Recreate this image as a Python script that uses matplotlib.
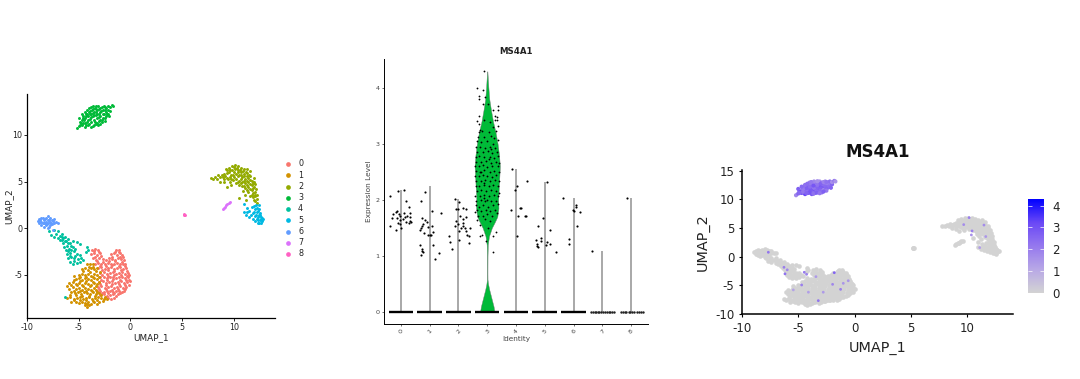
import matplotlib
matplotlib.use("Agg")
import matplotlib.pyplot as plt
from matplotlib.colors import LinearSegmentedColormap
from matplotlib.cm import ScalarMappable
from matplotlib.colors import Normalize

plt.rcParams["axes.unicode_minus"] = False

W, H = 1080, 379

# cluster points (umap_1, umap_2)
c0 = [(-3.7,-2.3),(-3.4,-2.2),(-3.1,-2.4),(-1.4,-2.3),(-1.1,-2.4),(-3.8,-2.8),(-3.5,-2.7),(-3.2,-2.9),(-2.9,-2.7),(-1.9,-2.8),
      (-1.6,-2.7),(-1.3,-2.9),(-1.0,-2.7),(-0.8,-2.9),(-3.6,-3.2),(-3.3,-3.4),(-3.0,-3.2),(-2.7,-3.3),(-2.4,-3.4),(-2.1,-3.2),
      (-1.8,-3.3),(-1.5,-3.4),(-1.2,-3.2),(-0.9,-3.3),(-0.6,-3.4),(-3.4,-3.8),(-3.1,-3.7),(-2.8,-3.9),(-2.5,-3.8),(-2.2,-3.7),
      (-1.9,-3.9),(-1.6,-3.8),(-1.3,-3.7),(-1.0,-3.9),(-0.7,-3.8),(-0.5,-3.9),(-3.1,-4.3),(-2.8,-4.2),(-2.5,-4.4),(-2.2,-4.3),
      (-1.9,-4.2),(-1.6,-4.4),(-1.3,-4.3),(-1.0,-4.2),(-0.7,-4.4),(-0.4,-4.3),(-2.9,-4.8),(-2.6,-4.7),(-2.3,-4.9),(-2.0,-4.8),
      (-1.7,-4.7),(-1.4,-4.9),(-1.1,-4.8),(-0.8,-4.7),(-0.5,-4.9),(-0.2,-4.8),(-2.9,-5.3),(-2.6,-5.2),(-2.3,-5.4),(-2.0,-5.3),
      (-1.7,-5.2),(-1.4,-5.4),(-1.1,-5.3),(-0.8,-5.2),(-0.5,-5.4),(-0.2,-5.3),(-0.1,-5.0),(-3.0,-5.8),(-2.7,-5.7),(-2.4,-5.9),
      (-2.1,-5.8),(-1.8,-5.7),(-1.5,-5.9),(-1.2,-5.8),(-0.9,-5.7),(-0.6,-5.9),(-0.3,-5.8),(0.0,-5.7),(-3.1,-6.3),(-2.8,-6.2),
      (-2.5,-6.4),(-2.2,-6.3),(-1.9,-6.2),(-1.6,-6.4),(-1.3,-6.3),(-1.0,-6.2),(-0.7,-6.4),(-0.4,-6.3),(-0.1,-6.1),(-3.2,-6.8),
      (-2.9,-6.7),(-2.6,-6.9),(-2.3,-6.8),(-2.0,-6.7),(-1.7,-6.9),(-1.4,-6.8),(-1.1,-6.7),(-0.8,-6.9),(-0.6,-6.7),(-2.9,-7.2),
      (-2.6,-7.1),(-2.3,-7.3),(-2.0,-7.2),(-1.7,-7.1),(-1.4,-7.3),(-1.2,-7.1),(-2.2,-7.5),(-1.9,-7.6),(-1.6,-7.5),
      (-3.55,-2.5),(-3.05,-2.6),(-1.45,-2.55),(-1.15,-2.6),(-3.45,-3.05),(-2.85,-3.0),(-1.75,-3.05),(-1.05,-3.1),(-0.75,-3.1),(-3.25,-3.55),
      (-2.65,-3.6),(-2.05,-3.5),(-1.45,-3.55),(-0.85,-3.6),(-2.95,-4.05),(-2.35,-4.1),(-1.75,-4.0),(-1.15,-4.05),(-0.55,-4.1),(-2.75,-4.5),
      (-2.15,-4.55),(-1.55,-4.6),(-0.95,-4.5),(-0.35,-4.6),(-2.75,-5.05),(-2.15,-5.1),(-1.55,-5.05),(-0.95,-5.0),(-0.35,-5.1),(-2.85,-5.55),
      (-2.25,-5.6),(-1.65,-5.5),(-1.05,-5.55),(-0.45,-5.6),(-0.1,-5.55),(-2.95,-6.05),(-2.35,-6.1),(-1.75,-6.0),(-1.15,-6.05),(-0.55,-6.1),
      (-3.0,-6.5),(-2.4,-6.55),(-1.8,-6.6),(-1.2,-6.55),(-0.55,-6.55),(-2.75,-7.0),(-2.15,-6.95),(-1.55,-7.0),(-1.0,-7.0),(-2.45,-7.5)]
c1 = [(-4.2,-3.8),(-3.9,-3.9),(-3.6,-3.9),(-4.7,-4.4),(-4.4,-4.3),(-4.1,-4.5),(-3.8,-4.3),(-3.5,-4.4),(-3.2,-4.3),(-5.0,-5.0),
      (-4.7,-4.9),(-4.4,-5.0),(-4.1,-4.9),(-3.8,-5.1),(-3.5,-4.9),(-3.2,-5.0),(-2.9,-4.7),(-5.5,-5.1),(-5.3,-5.5),(-5.0,-5.4),
      (-4.7,-5.6),(-4.4,-5.4),(-4.1,-5.5),(-3.8,-5.6),(-3.5,-5.4),(-3.2,-5.5),(-5.9,-5.9),(-5.6,-5.8),(-5.3,-6.0),(-5.0,-5.9),
      (-4.7,-6.1),(-4.4,-5.9),(-4.1,-6.0),(-3.8,-6.1),(-3.5,-5.9),(-3.2,-6.0),(-6.1,-6.2),(-5.9,-6.5),(-5.6,-6.3),(-5.3,-6.5),
      (-5.0,-6.4),(-4.7,-6.6),(-4.4,-6.4),(-4.1,-6.5),(-3.8,-6.6),(-3.5,-6.4),(-3.3,-6.6),(-5.7,-6.9),(-5.4,-7.0),(-5.1,-6.9),
      (-4.8,-7.1),(-4.5,-6.9),(-4.2,-7.0),(-3.9,-7.1),(-3.6,-6.9),(-3.3,-7.1),(-3.0,-7.0),(-6.1,-7.5),(-5.8,-7.4),(-5.5,-7.6),
      (-5.2,-7.5),(-4.9,-7.4),(-4.6,-7.6),(-4.3,-7.5),(-4.0,-7.4),(-3.7,-7.6),(-3.4,-7.5),(-3.1,-7.4),(-2.8,-7.5),(-2.5,-7.4),
      (-2.3,-7.6),(-5.7,-7.9),(-5.3,-7.9),(-5.0,-8.0),(-4.7,-7.9),(-4.4,-8.0),(-4.1,-7.9),(-3.8,-8.1),(-3.5,-7.9),(-3.0,-7.9),
      (-2.7,-7.8),(-4.4,-8.3),(-4.2,-8.5),(-4.0,-8.3),(-4.2,-8.1),(-3.2,-8.1),
      (-4.05,-4.15),(-3.65,-4.15),(-4.55,-4.65),(-3.95,-4.7),(-3.35,-4.65),(-4.85,-5.2),(-4.25,-5.25),(-3.65,-5.2),(-3.05,-5.25),(-5.45,-5.6),
      (-4.85,-5.65),(-4.25,-5.7),(-3.65,-5.75),(-3.05,-5.75),(-5.75,-6.1),(-5.15,-6.15),(-4.55,-6.25),(-3.95,-6.25),(-3.35,-6.2),(-5.45,-6.7),
      (-4.85,-6.75),(-4.25,-6.75),(-3.7,-6.75),(-3.2,-6.85),(-5.85,-7.15),(-5.25,-7.2),(-4.65,-7.25),(-4.05,-7.25),(-3.45,-7.25),(-2.85,-7.2),
      (-5.45,-7.75),(-4.85,-7.7),(-4.25,-7.7),(-3.65,-7.85),(-3.25,-7.7),(-2.6,-7.65)]
c2 = [(7.8,5.4),(8.0,5.3),(8.2,5.5),(8.4,5.3),(8.5,5.7),(8.7,5.5),(8.7,5.0),(9.0,5.8),(9.0,5.3),(9.0,4.9),
      (9.2,6.3),(9.3,5.9),(9.3,5.4),(9.5,6.5),(9.5,6.0),(9.6,5.5),(9.6,5.0),(9.8,6.7),(9.8,6.2),(9.9,5.7),
      (9.9,5.2),(10.1,6.8),(10.1,6.3),(10.2,5.8),(10.2,5.3),(10.2,4.8),(10.4,6.7),(10.4,6.2),(10.5,5.7),(10.5,5.1),
      (10.5,4.6),(10.7,6.5),(10.7,6.0),(10.8,5.5),(10.8,5.0),(10.8,4.5),(10.9,4.0),(11.0,6.3),(11.0,5.8),(11.1,5.3),
      (11.1,4.8),(11.1,4.3),(11.1,3.6),(11.3,6.4),(11.3,5.9),(11.4,5.4),(11.4,4.9),(11.4,4.4),(11.4,3.9),(11.6,6.1),
      (11.6,5.6),(11.7,5.1),(11.7,4.6),(11.7,4.1),(11.7,3.6),(11.9,5.4),(11.9,5.0),(11.9,4.4),(12.0,3.9),(12.0,3.4),
      (11.9,3.0),(12.1,4.2),(12.2,3.6),(12.2,3.1),(12.2,2.7),(10.5,3.2),(9.3,4.4),(8.9,5.5),(9.7,4.6),(11.2,3.0),
      (8.85,5.75),(9.15,5.6),(9.35,6.2),(9.45,5.25),(9.65,6.25),(9.75,5.75),(9.75,5.3),(10.0,6.55),(10.05,6.05),(10.05,5.5),
      (10.3,6.45),(10.35,6.0),(10.35,5.55),(10.35,5.0),(10.6,6.25),(10.65,5.75),(10.65,5.25),(10.65,4.8),(10.9,6.1),(10.95,5.55),
      (10.95,5.1),(10.95,4.55),(11.2,6.05),(11.25,5.6),(11.25,5.1),(11.25,4.6),(11.25,4.1),(11.5,5.75),(11.55,5.2),(11.55,4.7),
      (11.55,4.2),(11.55,3.4),(11.8,4.85),(11.8,4.3),(11.85,3.8),(11.85,3.3),(12.05,4.7),(12.05,3.6),(12.05,2.9)]
# cluster 3 carries its expression level too (umap_1, umap_2, MS4A1)
c3 = [(-5.2,10.7,1.8),(-5.0,11.0,2.6),(-4.9,11.4,2.4),(-5.0,11.8,2.7),(-4.7,11.1,2.9),(-4.7,11.6,2.0),(-4.6,12.0,2.5),(-4.4,10.9,3.2),(-4.4,11.3,2.6),(-4.4,11.8,2.3),
      (-4.3,12.3,2.8),(-4.1,11.1,2.7),(-4.1,11.6,3.4),(-4.1,12.0,2.2),(-4.0,12.5,1.9),(-3.8,10.9,2.9),(-3.8,11.4,2.5),(-3.8,11.9,3.0),(-3.8,12.3,2.4),(-3.7,12.7,2.1),
      (-3.5,11.1,2.6),(-3.5,11.6,3.1),(-3.5,12.1,1.8),(-3.5,12.5,2.7),(-3.4,12.9,2.3),(-3.2,11.3,2.2),(-3.2,11.8,2.8),(-3.2,12.3,3.3),(-3.2,12.7,2.5),(-3.1,13.1,1.7),
      (-2.9,11.6,2.9),(-2.9,12.0,2.4),(-2.9,12.5,2.6),(-2.9,12.9,2.0),(-2.7,11.8,2.5),(-2.7,12.3,3.0),(-2.7,12.7,2.3),(-2.6,13.1,1.9),(-2.4,12.0,2.2),(-2.4,12.5,2.7),
      (-2.4,12.9,2.5),(-2.2,12.3,2.8),(-2.2,12.7,2.1),(-2.2,13.1,2.4),(-2.0,12.6,2.6),(-2.0,13.0,1.6),(-1.8,13.2,2.2),(-1.7,13.1,1.5),(-4.8,11.3,3.0),(-4.5,11.6,2.7),
      (-4.2,11.4,2.4),(-3.9,11.7,2.8),(-3.6,12.0,2.2),(-3.3,12.1,2.6),(-3.0,12.2,2.9),(-2.8,12.6,2.4),(-2.5,12.7,1.9),(-3.6,12.8,2.5),(-3.3,12.5,2.3),(-4.2,12.2,2.6),
      (-4.6,11.3,2.2),(-3.0,11.9,2.7),(-3.9,12.6,2.0),(-2.6,12.2,2.5),(-4.0,11.2,2.9),(-3.4,11.4,2.4),(-4.9,11.1,2.5),(-4.55,11.85,2.1),(-4.25,12.0,2.7),(-3.95,12.2,2.4),
      (-3.65,12.4,2.9),(-3.35,12.75,2.2),(-3.0,12.75,2.6),(-2.75,13.0,1.9),(-2.5,13.0,2.3),(-2.3,12.2,2.4),(-4.25,11.05,2.6),(-3.65,10.95,2.3),(-3.35,11.15,2.7),(-3.05,11.5,2.5),
      (-2.75,11.6,1.8),(-2.5,11.85,2.6),(-4.4,12.5,2.3),(-4.0,12.9,2.0),(-3.6,13.1,1.8),(-4.7,12.2,2.5),(-2.9,11.2,2.4),(-2.5,11.5,2.1),(-2.1,12.0,2.6),(-3.1,11.05,2.2),
      (-3.85,13.0,2.1),(-4.2,12.7,2.4),(-3.3,13.15,1.6),(-2.75,11.35,2.7)]
c4 = [(-7.9,-0.3),(-7.7,-0.7),(-7.4,-0.2),(-7.2,-0.6),(-7.4,-1.0),(-7.0,-0.3),(-7.0,-1.1),(-6.8,-0.8),(-6.6,-0.6),(-6.8,-1.3),
      (-6.5,-1.1),(-6.3,-0.9),(-6.5,-1.6),(-6.2,-1.4),(-6.0,-1.2),(-6.4,-2.0),(-6.1,-1.9),(-5.8,-1.6),(-5.6,-1.4),(-6.2,-2.4),
      (-5.9,-2.2),(-5.6,-2.0),(-5.2,-1.5),(-4.9,-1.7),(-6.1,-2.8),(-5.8,-2.7),(-5.5,-2.5),(-5.2,-2.8),(-4.9,-2.9),(-6.0,-3.2),
      (-5.7,-3.1),(-5.4,-3.0),(-5.1,-3.3),(-4.8,-3.2),(-4.6,-3.4),(-5.8,-3.6),(-5.5,-3.5),(-5.2,-3.7),(-4.9,-3.6),(-4.2,-2.0),
      (-4.3,-2.6),(-4.1,-2.4),(-6.3,-7.4),(-6.65,-1.0),(-6.35,-1.35),(-6.05,-1.65),(-5.75,-1.95),(-6.0,-2.5),(-5.7,-2.4),(-5.85,-3.0),
      (-5.45,-3.25),(-5.6,-3.8),(-5.35,-2.2),(-6.6,-1.3)]
c5 = [(11.0,2.6),(11.3,2.2),(11.0,1.7),(11.2,1.4),(11.5,1.8),(11.5,1.2),(11.7,2.3),(11.8,1.6),(11.8,1.0),(12.0,2.0),
      (12.0,1.3),(12.1,2.5),(12.2,1.7),(12.2,1.0),(12.2,2.2),(12.3,0.6),(12.4,1.4),(12.4,2.0),(12.5,0.9),(12.5,1.6),
      (12.6,0.5),(12.6,1.2),(12.7,0.8),(12.7,1.1),(12.4,2.5),(12.0,0.8),(11.3,1.7),(12.8,1.0),(12.3,1.2),(11.65,1.4),
      (11.95,1.7),(12.35,0.85),(12.55,1.4),(12.45,0.55),(11.9,2.4),(12.15,1.45),(12.65,0.95),(12.3,1.8)]
c6 = [(-8.9,0.8),(-8.8,0.5),(-8.8,1.0),(-8.6,0.3),(-8.6,0.7),(-8.6,1.1),(-8.4,0.1),(-8.4,0.5),(-8.4,0.9),(-8.2,0.3),
      (-8.2,0.7),(-8.2,1.1),(-8.0,0.0),(-8.0,0.5),(-8.0,0.9),(-8.0,1.3),(-7.8,0.3),(-7.8,0.7),(-7.8,1.1),(-7.6,0.4),
      (-7.6,0.9),(-7.4,0.6),(-7.4,1.0),(-7.2,0.7),(-7.5,-0.2),(-7.0,0.6),(-8.7,0.85),(-8.5,0.55),(-8.3,0.95),(-8.1,0.45),
      (-7.9,0.85),(-7.7,0.55),(-7.5,0.8),(-8.3,0.5),(-8.5,1.05),(-7.9,0.15)]
c7 = [(8.9,2.1),(9.0,2.2),(9.15,2.3),(9.25,2.45),(9.35,2.55),(9.5,2.7),(9.6,2.8)]
c8 = [(5.15,1.45),(5.25,1.45),(5.2,1.5)]
clusters = [c0, c1, c2, c3, c4, c5, c6, c7, c8]
cluster_names = ["0", "1", "2", "3", "4", "5", "6", "7", "8"]
cluster_colors = ["#F8766D", "#D39200", "#93AA00", "#00BA38", "#00C19F", "#00B9E3", "#619CFF", "#DB72FB", "#FF61C3"]

# violin panel
violin_max = [2.17, 2.24, 2.02, 4.29, 2.55, 2.32, 2.04, 1.08, 2.03]
zero_halfwidth = [0.43, 0.43, 0.43, 0.42, 0.43, 0.43, 0.42, 0.0, 0.0]
zero_x7 = [6.62, 6.68, 6.73, 6.78, 6.84, 6.9, 6.96, 7.03, 7.1, 7.16, 7.22, 7.28, 7.34, 7.4]
zero_x8 = [7.66, 7.72, 7.78, 7.84, 7.92, 7.98, 8.04, 8.12, 8.2, 8.27, 8.35, 8.42]
violin_y = [0.0, 0.1, 0.2, 0.3, 0.4, 0.5, 0.58, 0.7, 1.0, 1.2, 1.35, 1.5, 1.6, 1.7, 1.85, 2.0, 2.3, 2.6, 2.8, 3.0, 3.2, 3.4, 3.6, 3.8, 4.0, 4.29]
violin_w = [0.25, 0.22, 0.17, 0.12, 0.07, 0.03, 0.01, 0.008, 0.01, 0.02, 0.06, 0.16, 0.26, 0.35, 0.39, 0.38, 0.41, 0.44, 0.41, 0.36, 0.29, 0.2, 0.13, 0.07, 0.04, 0.005]

jit0 = [(-.38,2.06),(-.09,2.16),(.09,2.18),(.16,1.97),(.28,1.88),(-.37,1.53),(-.30,1.67),(-.28,1.74),(-.19,1.78),(-.14,1.80),(-.08,1.75),(-.05,1.71),(.09,1.76),(.13,1.69),
        (.33,1.76),(.30,1.69),(.36,1.61),(.28,1.59),(.19,1.61),(.07,1.66),(-.02,1.64),(-.09,1.59),(-.05,1.57),(-.16,1.47),(.01,1.49),(-.13,1.67),(.31,1.62),(.2,1.72)]
jit1 = [(.66,1.47),(.68,1.5),(.72,1.53),(.75,1.57),(.74,1.67),(.85,1.64),(.91,1.6),(.81,1.4),(.93,1.38),(1.0,1.37),(1.03,1.38),(1.13,1.42),(1.07,1.53),(.94,1.52),
        (.84,2.14),(.69,1.98),(1.07,1.8),(1.38,1.76),(.67,1.2),(.73,1.13),(.74,1.09),(.75,1.07),(.71,1.02),(1.13,1.2),(1.2,.95),(1.33,1.05)]
jit2 = [(1.68,1.35),(1.72,1.25),(1.76,1.13),(1.88,2.02),(2.02,1.96),(2.0,1.83),(1.92,1.83),(2.15,1.85),(2.27,1.84),(2.04,1.72),(2.17,1.66),(2.27,1.69),(1.9,1.62),(1.88,1.54),
        (2.0,1.57),(2.17,1.59),(2.15,1.53),(2.22,1.5),(2.4,1.5),(2.02,1.45),(2.27,1.44),(2.31,1.38),(2.35,1.35),(2.02,1.28),(2.35,1.23),(2.1,1.5)]
jit3 = [(2.87,4.29),(2.63,4.0),(2.85,3.95),(2.72,3.85),(2.73,3.79),(2.92,3.84),(3.03,3.7),(2.85,3.7),(3.36,3.68),(3.36,3.6),(3.2,3.6),(2.73,3.5),(3.28,3.5),(3.33,3.47),
        (3.27,3.42),(3.35,3.42),(2.65,3.4),(2.7,3.35),(2.9,3.42),(3.1,3.38),(3.2,3.3),(3.36,3.32),(2.76,3.25),(2.7,3.2),(2.82,3.22),(3.05,3.2),(3.3,3.22),(2.68,3.12),
        (2.9,3.12),(3.12,3.14),(3.25,3.1),(2.63,3.05),(2.8,3.03),(3.0,3.05),(3.2,3.0),(3.36,3.07),(2.62,2.95),(2.75,2.95),(2.92,2.93),(3.1,2.95),(3.28,2.92),(2.66,2.85),
        (2.85,2.85),(3.02,2.87),(3.16,2.84),(3.34,2.85),(2.6,2.77),(2.72,2.78),(2.9,2.76),(3.08,2.77),(3.25,2.75),(3.38,2.78),(2.6,2.68),(2.78,2.68),(2.95,2.7),(3.12,2.66),
        (3.3,2.68),(3.42,2.66),(2.56,2.6),(2.7,2.6),(2.85,2.62),(3.0,2.58),(3.18,2.6),(3.36,2.6),(2.6,2.52),(2.74,2.5),(2.9,2.53),(3.08,2.5),(3.24,2.52),(3.42,2.5),(2.57,2.43),
        (2.7,2.42),(2.84,2.44),(3.0,2.42),(3.15,2.41),(3.32,2.44),(2.62,2.34),(2.78,2.34),(2.93,2.36),(3.1,2.33),(3.26,2.35),(3.4,2.34),(2.6,2.25),(2.72,2.25),(2.88,2.27),
        (3.05,2.24),(3.2,2.26),(3.36,2.25),(2.64,2.16),(2.8,2.17),(2.96,2.15),(3.12,2.17),(3.3,2.15),(3.42,2.13),(2.58,2.07),(2.74,2.07),(2.9,2.08),(3.05,2.06),(3.22,2.08),
        (3.38,2.07),(2.62,1.98),(2.78,1.99),(2.92,1.97),(2.98,2.0),(3.14,1.98),(3.3,1.98),(2.6,1.9),(2.7,1.88),(2.86,1.9),(3.03,1.88),(3.2,1.9),(3.36,1.92),(2.65,1.82),
        (2.8,1.8),(2.96,1.82),(3.1,1.8),(3.26,1.82),(2.58,1.78),(2.68,1.72),(2.84,1.72),(3.0,1.74),(3.18,1.72),(3.33,1.76),(2.66,1.64),(2.92,1.65),(3.1,1.63),(2.75,1.55),
        (3.02,1.5),(2.75,1.36),(2.82,1.37),(2.95,1.27),(3.2,1.07),(3.2,1.36),(3.3,1.42),(2.87,2.3),(3.05,2.72),(2.78,2.5),(3.14,2.9),(2.9,2.03)]
jit4 = [(3.84,1.82),(3.86,2.55),(3.97,2.17),(4.03,1.36),(4.02,2.25),(4.07,1.72),(4.15,1.85),(4.18,1.86),(4.31,1.71),(4.35,1.71),(4.38,2.33)]
jit5 = [(4.71,1.28),(4.72,1.22),(4.74,1.18),(4.76,1.15),(4.77,1.53),(4.87,1.32),(4.87,1.27),(4.93,1.68),(5.03,1.2),(5.08,1.24),(5.07,2.31),(5.18,1.47),(5.17,1.21),(5.38,1.07)]
jit6 = [(5.65,2.04),(5.83,1.21),(5.85,1.3),(5.99,1.82),(6.01,1.8),(6.08,1.91),(6.1,1.87),(6.12,1.53),(6.21,1.79)]
jit7 = [(6.65,1.08)]
jit8 = [(7.87,2.03)]
jitter = [jit0, jit1, jit2, jit3, jit4, jit5, jit6, jit7, jit8]

# cells outside cluster 3 that express MS4A1 in the feature panel
pos_x = [-7.66, -6.27, -6.18, -5.98, -4.47, -4.26, -4.7, -1.8, -1.95, -3.43, -1.0, -1.24, -0.56, -3.22, -4.1, -5.44, -2.78, 10.18, 9.7, 10.44, 10.38, 11.5, 11.66, 11.12]
pos_y = [0.76, -1.86, -3.0, -2.3, -2.73, -3.08, -4.94, -2.8, -4.83, -3.49, -4.65, -5.7, -4.2, -7.67, -6.2, -5.8, -6.2, 6.8, 5.58, 4.48, 3.78, 5.5, 3.5, 1.57]
pos_v = [2.2, 2.0, 2.3, 1.8, 2.1, 1.9, 2.0, 2.6, 1.8, 1.4, 1.5, 2.0, 1.5, 2.2, 1.3, 1.2, 1.4, 2.0, 1.7, 2.0, 1.6, 1.7, 1.5, 1.3]

feature_colors = ["#d3d3d3", "#b8a8e6", "#9578ee", "#6a48f6", "#0000ff"]
feature_cmap = LinearSegmentedColormap.from_list("ms4a1", feature_colors)
feature_max = 4.3


def make_axes(fig, left, top, right, bottom):
    return fig.add_axes([left / W, 1 - bottom / H, (right - left) / W, (bottom - top) / H])


def clean(ax, lw=0.9):
    ax.spines["top"].set_visible(False)
    ax.spines["right"].set_visible(False)
    ax.spines["left"].set_linewidth(lw)
    ax.spines["bottom"].set_linewidth(lw)


fig = plt.figure(figsize=(W / 100, H / 100), dpi=100)

# left: clusters
ax = make_axes(fig, 27, 94, 275, 318)
for pts, name, col in zip(clusters, cluster_names, cluster_colors):
    ax.scatter([p[0] for p in pts], [p[1] for p in pts], s=4.5, color=col, linewidths=0, label=name)
ax.set_xlim(-10, 13.97)
ax.set_ylim(-9.65, 14.4)
ax.set_xticks([-10, -5, 0, 5, 10])
ax.set_yticks([-5, 0, 5, 10])
ax.tick_params(labelsize=5.8, length=2, width=0.6, pad=1.5, labelcolor="#222222")
ax.set_xlabel("UMAP_1", fontsize=6.4, labelpad=1, color="#222222")
ax.set_ylabel("UMAP_2", fontsize=6.4, labelpad=-1, color="#222222")
clean(ax)
ax.legend(loc="center left", bbox_to_anchor=(1.015, 0.4875), frameon=False, fontsize=5.8, markerscale=1.6,
          handletextpad=0.7, labelspacing=0.28, borderpad=0, labelcolor="#222222", handlelength=1.2)

# middle: violin
ax = make_axes(fig, 384, 59, 648, 324)
for i, top in enumerate(violin_max):
    if i != 3:
        ax.plot([i, i], [0, top], color="#999999", lw=1.2, solid_capstyle="butt", zorder=1)
ax.fill_betweenx(violin_y, [3 - w for w in violin_w], [3 + w for w in violin_w], color="#00BA38", edgecolor="#777777", lw=0.3, zorder=2)
for i, hw in enumerate(zero_halfwidth):
    if hw > 0:
        ax.plot([i - hw, i + hw], [0, 0], color="black", lw=1.7, solid_capstyle="butt", zorder=3)
ax.scatter(zero_x7, [0] * len(zero_x7), s=3, color="#222222", linewidths=0, zorder=3)
ax.scatter(zero_x8, [0] * len(zero_x8), s=3, color="#222222", linewidths=0, zorder=3)
for i, pts in enumerate(jitter):
    ax.scatter([p[0] for p in pts], [p[1] for p in pts], s=1.7 if i == 3 else 2.4, color="black", linewidths=0, zorder=4)
ax.set_xlim(-0.59, 8.59)
ax.set_ylim(-0.214, 4.51)
ax.set_xticks(range(9))
ax.set_xticklabels(cluster_names, rotation=45, ha="right", rotation_mode="anchor")
ax.set_yticks([0, 1, 2, 3, 4])
ax.tick_params(labelsize=4.6, length=1.5, width=0.4, pad=1.5, labelcolor="#444444")
ax.set_xlabel("Identity", fontsize=5.3, labelpad=1, color="#444444")
ax.set_ylabel("Expression Level", fontsize=5.3, labelpad=3, color="#444444")
ax.set_title("MS4A1", fontsize=6.2, fontweight="bold", pad=3.5, color="#222222")
clean(ax, 0.7)

# right: feature plot
ax = make_axes(fig, 742, 170, 1013, 314)
for pts in [c0, c1, c2, c4, c5, c6, c7, c8]:
    ax.scatter([p[0] for p in pts], [p[1] for p in pts], s=11, color="#d3d3d3", linewidths=0)
ax.scatter(pos_x, pos_y, c=pos_v, s=4, cmap=feature_cmap, vmin=0, vmax=feature_max, linewidths=0, zorder=3)
ax.scatter([p[0] for p in c3], [p[1] for p in c3], c=[p[2] for p in c3], s=9, cmap=feature_cmap, vmin=0, vmax=feature_max, linewidths=0, zorder=3)
ax.set_xlim(-10, 14.08)
ax.set_ylim(-10, 15.1)
ax.set_xticks([-10, -5, 0, 5, 10])
ax.set_yticks([-10, -5, 0, 5, 10, 15])
ax.tick_params(labelsize=8.5, length=2.5, width=0.8, pad=3, labelcolor="#222222")
ax.set_xlabel("UMAP_1", fontsize=10.4, labelpad=4.5, color="#222222")
ax.set_ylabel("UMAP_2", fontsize=10.4, labelpad=4, color="#222222")
ax.set_title("MS4A1", fontsize=12, fontweight="bold", pad=9.5, color="#111111")
clean(ax, 1.1)

cax = make_axes(fig, 1028, 199, 1044, 293)
cb = fig.colorbar(ScalarMappable(norm=Normalize(0, feature_max), cmap=feature_cmap), cax=cax)
cb.set_ticks([0, 1, 2, 3, 4])
cb.outline.set_visible(False)
cb.ax.tick_params(labelsize=8.5, length=3, width=0.5, color="white", direction="in", left=True, right=True, pad=6, labelcolor="#222222")

fig.savefig("out.png", dpi=100)
